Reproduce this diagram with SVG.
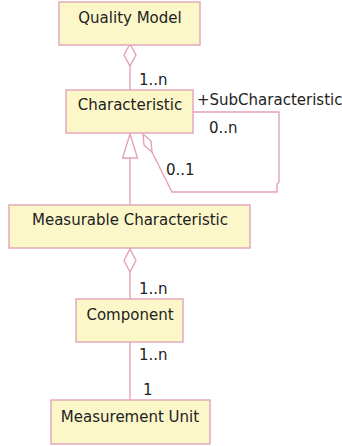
<svg xmlns="http://www.w3.org/2000/svg" width="342" height="446" viewBox="0 0 342 446">
<style>
.box{fill:#fcf7c9;stroke:#e3a3b6;stroke-width:1.4}
.ln{fill:none;stroke:#e3a3b6;stroke-width:1.4}
.hd{fill:#fff;stroke:#e3a3b6;stroke-width:1.4}
text{font-family:"DejaVu Sans",Verdana,sans-serif;font-size:15px;fill:#222}
.c{text-anchor:middle}
</style>
<rect width="342" height="446" fill="#fff"/>
<g id="connectors">
<line class="ln" x1="130" y1="45" x2="130" y2="90"/>
<polygon class="hd" points="130,44 136,55 130,66 124,55"/>
<line class="ln" x1="130" y1="158" x2="130" y2="205"/>
<polygon class="hd" points="130,134 137.5,158 122.5,158"/>
<path class="ln" d="M193,112 H279 V182 L277,184 V192 H172 L152,152"/>
<polygon class="hd" points="143,134 151,141 152,152 144,145"/>
<line class="ln" x1="130" y1="248" x2="130" y2="299"/>
<polygon class="hd" points="130,249 136,260.5 130,272 124,260.5"/>
<line class="ln" x1="130" y1="342" x2="130" y2="400"/>
<text x="139" y="85">1..n</text>
<text x="197" y="105">+SubCharacteristic</text>
<text x="209" y="133">0..n</text>
<text x="166" y="175">0..1</text>
<text x="139" y="294">1..n</text>
<text x="139" y="360">1..n</text>
<text x="143" y="395">1</text>
</g>
<g id="quality-model"><rect class="box" x="59" y="2" width="141" height="43"/><text class="c" x="130" y="23">Quality Model</text></g>
<g id="characteristic"><rect class="box" x="66" y="90" width="127" height="43"/><text class="c" x="130" y="110">Characteristic</text></g>
<g id="measurable-characteristic"><rect class="box" x="9" y="205" width="241" height="43"/><text class="c" x="130" y="225">Measurable Characteristic</text></g>
<g id="component"><rect class="box" x="76" y="299" width="107" height="43"/><text class="c" x="130" y="320">Component</text></g>
<g id="measurement-unit"><rect class="box" x="51" y="400" width="159" height="44"/><text class="c" x="130" y="422">Measurement Unit</text></g>
</svg>
